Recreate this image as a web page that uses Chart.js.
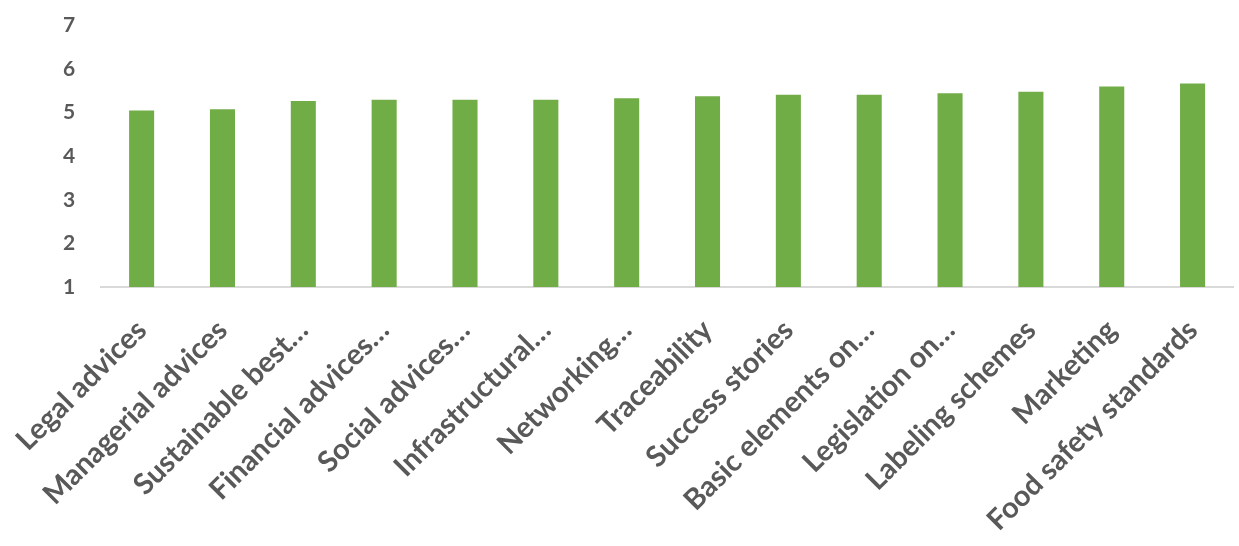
<!DOCTYPE html>
<html>
<head>
<meta charset="utf-8">
<script src="https://cdn.jsdelivr.net/npm/chart.js@4"></script>
<style>
    html, body { margin: 0; padding: 0; background: #fff; }
    #cornice { width: 1239px; height: 546px; overflow: hidden; position: relative; }
    #wrap { width: 1239px; height: 559px; position: absolute; left: 0; top: -13px; }
</style>
</head>
<body>
<div id="cornice"><div id="wrap"><canvas id="grafico"></canvas></div></div>
<script>
// Dati
const categorie = [
    'Legal advices', 'Managerial advices', 'Sustainable best…', 'Financial advices…',
    'Social advices…', 'Infrastructural…', 'Networking…', 'Traceability',
    'Success stories', 'Basic elements on…', 'Legislation on…', 'Labeling schemes',
    'Marketing', 'Food safety standards'
];
const valori = [5.05, 5.08, 5.27, 5.30, 5.30, 5.30, 5.33, 5.38, 5.41, 5.41, 5.45, 5.48, 5.60, 5.67];
const asseYMin = 1;
const asseYMax = 7;

const grigio = '#595959';

const ctx = document.getElementById('grafico').getContext('2d');
new Chart(ctx, {
    type: 'bar',
    data: {
        labels: categorie,
        datasets: [{
            data: valori,
            backgroundColor: '#70AD47',
            borderWidth: 0,
            barPercentage: 0.62,
            categoryPercentage: 0.5
        }]
    },
    options: {
        responsive: true,
        maintainAspectRatio: false,
        animation: false,
        layout: { padding: { left: 0, right: 6, top: 0, bottom: 0 } },
        plugins: {
            legend: { display: false },
            tooltip: { enabled: false }
        },
        scales: {
            x: {
                grid: { display: false },
                border: { color: '#d9d9d9', width: 2 },
                afterFit: (scale) => { scale.height = 259; },
                ticks: {
                    autoSkip: false,
                    maxRotation: 45,
                    minRotation: 45,
                    color: grigio,
                    padding: 18,
                    font: { family: 'Lato', size: 29, weight: 'bold' }
                }
            },
            y: {
                min: asseYMin,
                max: asseYMax,
                grid: { display: false, drawTicks: false },
                border: { display: false },
                afterFit: (scale) => { scale.width = 98; },
                ticks: {
                    stepSize: 1,
                    color: grigio,
                    padding: 26,
                    font: { family: 'Lato', size: 21, weight: 'bold' }
                }
            }
        }
    }
});
</script>
</body>
</html>
